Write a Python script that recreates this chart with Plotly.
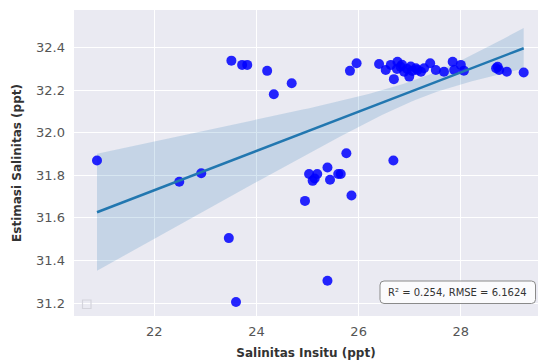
import numpy as np
import plotly.graph_objects as go

# Data (Salinitas Insitu vs Estimasi Salinitas, ppt)
insitu = [
    20.88, 22.49, 22.92, 23.46, 23.60, 25.39,
    24.95, 25.03, 25.19, 25.10, 25.14, 25.39, 25.44, 25.60, 25.65, 25.76, 25.86, 26.68,
    23.51, 23.72, 23.82, 24.21, 24.34, 24.69, 25.83, 25.96, 26.40,
    26.53, 26.63, 26.69, 26.76, 26.82, 26.89, 26.99, 27.02, 27.12, 27.22, 27.28,
    27.40, 27.51, 27.67, 27.84, 27.87, 28.00, 28.06,
    26.85, 26.95, 27.05, 26.75, 27.15,
    28.69, 28.75, 28.90, 28.72, 29.23,
]
estimasi = [
    31.87, 31.77, 31.81, 31.505, 31.205, 31.305,
    31.68, 31.806, 31.806, 31.774, 31.785, 31.837, 31.779, 31.806, 31.806, 31.904, 31.705, 31.87,
    32.339, 32.319, 32.319, 32.291, 32.181, 32.233, 32.291, 32.327, 32.323,
    32.295, 32.319, 32.252, 32.334, 32.311, 32.287, 32.264, 32.311, 32.303, 32.287, 32.303,
    32.327, 32.295, 32.287, 32.334, 32.295, 32.319, 32.292,
    32.32, 32.30, 32.29, 32.30, 32.295,
    32.303, 32.295, 32.287, 32.31, 32.283,
]
x_ticks = [22, 24, 26, 28]
y_ticks = [31.2, 31.4, 31.6, 31.8, 32.0, 32.2, 32.4]
stats_text = "R² = 0.254, RMSE = 6.1624"

# Linear fit with heteroscedasticity-robust (HC3) 95% confidence band
x = np.array(insitu)
y = np.array(estimasi)
n = len(x)
X = np.column_stack([np.ones(n), x])
XtX_inv = np.linalg.inv(X.T @ X)
beta = XtX_inv @ X.T @ y
resid = y - X @ beta
h = np.einsum("ij,jk,ik->i", X, XtX_inv, X)
meat = X.T @ (X * (resid ** 2 / (1 - h) ** 2)[:, None])
cov = XtX_inv @ meat @ XtX_inv
xg = np.linspace(x.min(), x.max(), 100)
G = np.column_stack([np.ones_like(xg), xg])
yg = G @ beta
se = np.sqrt(np.einsum("ij,jk,ik->i", G, cov, G))
t = 1.99
lo = yg - t * se
hi = yg + t * se

fig = go.Figure()
fig.add_trace(go.Scatter(
    x=np.concatenate([xg, xg[::-1]]), y=np.concatenate([hi, lo[::-1]]),
    fill="toself", fillcolor="rgba(31,119,180,0.18)", line=dict(width=0),
    hoverinfo="skip", showlegend=False))
fig.add_trace(go.Scatter(
    x=x, y=y, mode="markers",
    marker=dict(color="rgba(0,0,255,0.85)", size=10, line=dict(width=0)),
    showlegend=False))
fig.add_trace(go.Scatter(
    x=xg, y=yg, mode="lines", line=dict(color="#2277b0", width=2.5),
    showlegend=False))

L, R, T, B = 74, 0, 10, 46
W, H = 538, 362
pw, ph = W - L - R, H - T - B

def px2paper(px, py):
    return (px - L) / pw, (H - B - py) / ph

# rounded box around stats text
bx0, by0, bx1, by1 = 380, 281, 535.5, 303.5
r = 4
rx, ry = r / pw, r / ph
X0, Y0 = px2paper(bx0, by1)
X1, Y1 = px2paper(bx1, by0)
path = (f"M {X0+rx},{Y0} L {X1-rx},{Y0} Q {X1},{Y0} {X1},{Y0+ry} "
        f"L {X1},{Y1-ry} Q {X1},{Y1} {X1-rx},{Y1} L {X0+rx},{Y1} "
        f"Q {X0},{Y1} {X0},{Y1-ry} L {X0},{Y0+ry} Q {X0},{Y0} {X0+rx},{Y0} Z")
fig.add_shape(type="path", path=path, xref="paper", yref="paper",
              line=dict(color="#8a8a8a", width=1), fillcolor="rgba(255,255,255,0.8)", layer="above")
cx, cy = px2paper((bx0 + bx1) / 2, (by0 + by1) / 2)
fig.add_annotation(x=cx, y=cy, xref="paper", yref="paper", text=stats_text,
                   xanchor="center", yanchor="middle",
                   showarrow=False, font=dict(size=10, color="#333333", family="DejaVu Sans"))

# faint empty legend square
sx0, sy0 = px2paper(82.5, 308.5)
sx1, sy1 = px2paper(91, 300)
fig.add_shape(type="rect", x0=sx0, y0=sy0, x1=sx1, y1=sy1, xref="paper", yref="paper",
              line=dict(color="#d4d4dc", width=1.2), fillcolor="rgba(0,0,0,0)", layer="above")

fig.update_layout(
    width=W, height=H,
    margin=dict(l=L, r=R, t=T, b=B, autoexpand=False),
    paper_bgcolor="white", plot_bgcolor="#EAEAF2",
    font=dict(family="DejaVu Sans", color="#444444"),
    xaxis=dict(range=[20.43, 29.51], tickvals=x_ticks, ticktext=[str(v) for v in x_ticks],
               showgrid=True, gridcolor="white", gridwidth=1.2, zeroline=False, automargin=False,
               tickfont=dict(size=13, color="#555555"), ticklabelstandoff=6,
               title=dict(text="<b>Salinitas Insitu (ppt)</b>", font=dict(size=12, color="#333333"), standoff=10)),
    yaxis=dict(range=[31.139, 32.577], tickvals=y_ticks, ticktext=[f"{v:.1f}" for v in y_ticks],
               showgrid=True, gridcolor="white", gridwidth=1.2, zeroline=False, automargin=False,
               tickfont=dict(size=13, color="#555555"), ticklabelstandoff=8,
               title=dict(text="<b>Estimasi Salinitas (ppt)</b>", font=dict(size=12, color="#333333"), standoff=11)),
)

fig.write_html("out.html", config={"displayModeBar": False},
               post_script="document.body.style.margin='0px';")
